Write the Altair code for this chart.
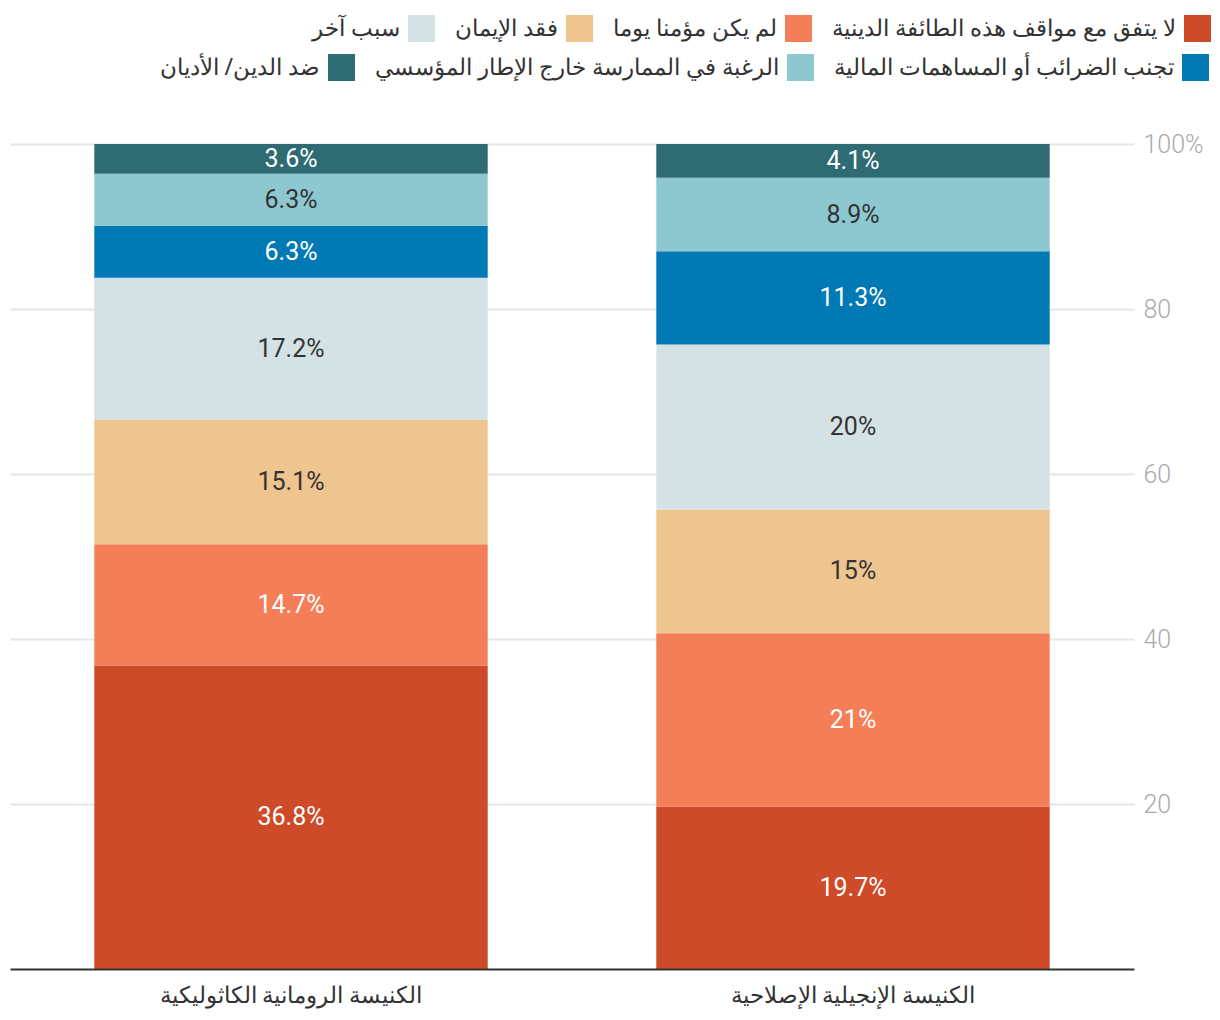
import altair as alt
import pandas as pd

churches = ["الكنيسة الرومانية الكاثوليكية", "الكنيسة الإنجيلية الإصلاحية"]
reasons = [
    "لا يتفق مع مواقف هذه الطائفة الدينية",
    "لم يكن مؤمنا يوما",
    "فقد الإيمان",
    "سبب آخر",
    "تجنب الضرائب أو المساهمات المالية",
    "الرغبة في الممارسة خارج الإطار المؤسسي",
    "ضد الدين/ الأديان",
]
colors = ["#cd4b28", "#f37e58", "#eec48f", "#d4e2e6", "#0079b4", "#8dc7cf", "#2e6b73"]
catholic = [36.8, 14.7, 15.1, 17.2, 6.3, 6.3, 3.6]
reformed = [19.7, 21.0, 15.0, 20.0, 11.3, 8.9, 4.1]
dark_text = [reasons[2], reasons[3], reasons[5]]

rows = []
for church, vals in zip(churches, [catholic, reformed]):
    for i, (r, v) in enumerate(zip(reasons, vals)):
        rows.append({"church": church, "reason": r, "value": v, "order": i})
df = pd.DataFrame(rows)

FONT = "Noto Sans"

base = (
    alt.Chart(df)
    .transform_stack(
        stack="value",
        groupby=["church"],
        sort=[alt.SortField("order", order="ascending")],
        as_=["y0", "y1"],
    )
    .transform_calculate(
        mid="(datum.y0 + datum.y1) / 2",
        label="format(datum.value, '.1~f') + '%'",
    )
)

x_enc = alt.X(
    "church:N",
    sort=churches,
    scale=alt.Scale(paddingInner=0.3, paddingOuter=0.15),
    axis=alt.Axis(
        title=None,
        labelAngle=0,
        domainColor="#333333",
        domainWidth=2,
        ticks=False,
        labelFontSize=23,
        labelColor="#333333",
        labelFont=FONT,
        labelPadding=15,
        labelLimit=0,
        zindex=1,
    ),
)
y_scale = alt.Scale(domain=[0, 100], nice=False)
y_enc = alt.Y(
    "y0:Q",
    scale=y_scale,
    axis=alt.Axis(
        title=None,
        orient="right",
        values=[20, 40, 60, 80, 100],
        labelExpr="datum.value == 100 ? '100%' : datum.label",
        domain=False,
        ticks=False,
        gridColor="#e6e6e6",
        gridWidth=2,
        labelColor="#aaaaaa",
        labelFontSize=25,
        labelFontWeight=300,
        labelFont="Roboto",
        labelPadding=9,
    ),
)


def legend(lx, ly):
    return alt.Legend(
        title=None,
        orient="none",
        legendX=lx,
        legendY=ly,
        direction="horizontal",
        padding=0,
        symbolType="square",
        symbolSize=729,
        symbolStrokeWidth=0,
        symbolOpacity=1,
        labelAlign="right",
        labelOffset={"expr": "-35"},
        labelFontSize=22.9,
        labelColor="#333333",
        labelFont=FONT,
        labelLimit=0,
        columnPadding=20,
    )


grp1 = reasons[:4]
grp2 = reasons[4:]

bars1 = (
    base.transform_filter(alt.FieldOneOfPredicate(field="reason", oneOf=grp1))
    .mark_bar(strokeWidth=0)
    .encode(
        x=x_enc,
        y=y_enc,
        y2="y1:Q",
        color=alt.Color(
            "reason:N",
            scale=alt.Scale(domain=grp1[::-1], range=colors[:4][::-1]),
            legend=legend(398, -129),
        ),
    )
)

bars2 = (
    base.transform_filter(alt.FieldOneOfPredicate(field="reason", oneOf=grp2))
    .mark_bar(strokeWidth=0)
    .encode(
        x=x_enc,
        y=y_enc,
        y2="y1:Q",
        color=alt.Color(
            "reason:N",
            scale=alt.Scale(domain=grp2[::-1], range=colors[4:][::-1]),
            legend=legend(318, -90),
        ),
    )
)

texts = base.mark_text(font="Roboto", fontSize=25).encode(
    x=alt.X("church:N", sort=churches),
    y=alt.Y("mid:Q"),
    text="label:N",
    color=alt.condition(
        alt.FieldOneOfPredicate(field="reason", oneOf=dark_text),
        alt.value("#333333"),
        alt.value("#ffffff"),
    ),
)

chart = (
    alt.layer(bars1, bars2, texts)
    .resolve_scale(color="independent")
    .properties(
        width=1124,
        height=825,
        autosize=alt.AutoSizeParams(type="none"),
        padding={"left": 2, "top": 136, "right": 78, "bottom": 50},
        background="#ffffff",
    )
    .configure_view(stroke=None)
)

chart.save("out.html", embed_options={"renderer": "svg", "actions": False})
